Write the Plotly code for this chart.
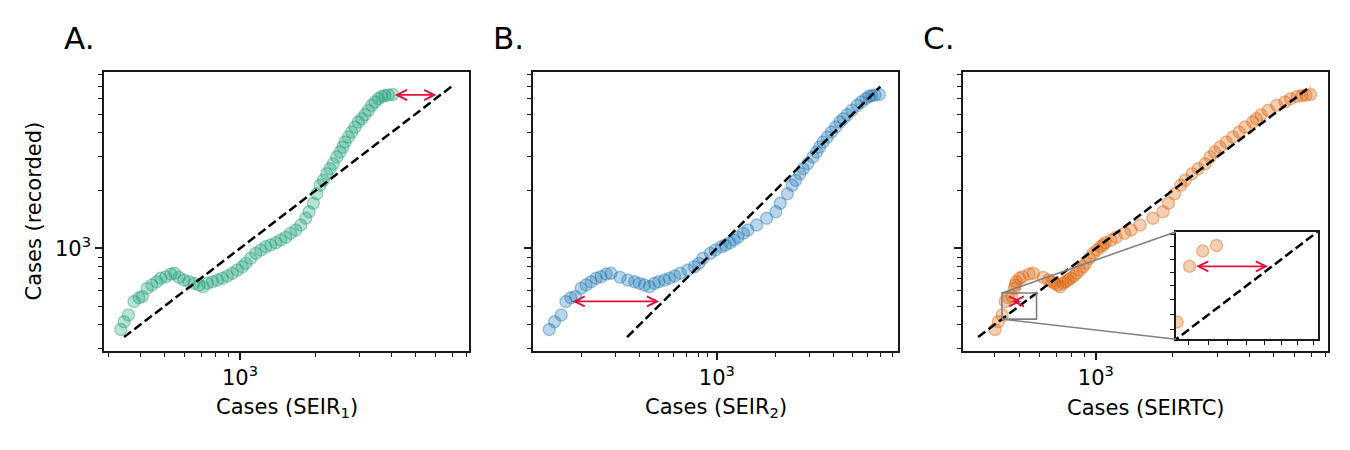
import numpy as np
import plotly.graph_objects as go

# ---------------- data ----------------
recorded = [378, 415, 450, 529, 553, 562, 619, 644, 670, 698, 711, 735, 741,
            706, 684, 670, 657, 644, 631,
            657, 670, 684, 698, 717, 741, 771, 802, 835, 887, 942,
            980, 1019, 1040, 1070, 1105, 1141, 1197, 1245, 1323, 1433,
            1551, 1716, 1925, 2129, 2260, 2446, 2598, 2758, 2989, 3174,
            3371, 3578, 3799, 4035, 4283, 4548, 4732, 4964, 5234, 5557,
            5781, 6014, 6174, 6249, 6287, 6324]

seir1 = [335, 345, 359, 378, 396, 408, 427, 445, 466, 483, 506, 530, 549,
         571, 598, 626, 656, 687, 714,
         741, 776, 812, 850, 890, 932, 975, 1021, 1054, 1103, 1155,
         1209, 1266, 1325, 1388, 1453, 1521, 1592, 1667, 1745, 1827,
         1883, 1959, 2021, 2083, 2147, 2215, 2283, 2353, 2428, 2502,
         2566, 2620, 2701, 2786, 2872, 2960, 3054, 3148, 3245, 3347,
         3450, 3556, 3668, 3781, 3897, 4060]

seir2 = [137, 146, 158, 167, 177, 187, 200, 212, 225, 239, 253, 269, 285,
         317, 348, 377, 399, 424, 450,
         477, 502, 538, 570, 607, 648, 709, 766, 808, 847, 926,
         982, 1055, 1106, 1167, 1224, 1283, 1370, 1445, 1602, 1804,
         2014, 2121, 2309, 2444, 2545, 2678, 2785, 2938, 3121, 3261,
         3383, 3526, 3708, 3892, 4097, 4305, 4477, 4694, 4965, 5287,
         5543, 5842, 6075, 6258, 6523, 6864]

seirtc = [402, 414, 429, 441, 454, 468, 479, 483, 487, 502, 516, 547, 568,
          621, 652, 672, 689, 708, 724,
          744, 761, 779, 796, 820, 840, 866, 892, 912, 944, 976,
          1010, 1043, 1068, 1088, 1148, 1201, 1297, 1375, 1492, 1673,
          1834, 1928, 2037, 2154, 2239, 2384, 2520, 2683, 2812, 2926,
          3072, 3249, 3448, 3653, 3850, 4128, 4264, 4449, 4752, 5126,
          5525, 5805, 6157, 6442, 6679, 6957]

panel_letters = ["A.", "B.", "C."]
x_titles = ["Cases (SEIR<sub>1</sub>)", "Cases (SEIR<sub>2</sub>)", "Cases (SEIRTC)"]
y_title = "Cases (recorded)"
major_ticks = [1000]
major_labels = ["10<sup>3</sup>"]
minor_ticks = [100, 200, 300, 400, 500, 600, 700, 800, 900,
               2000, 3000, 4000, 5000, 6000, 7000, 8000, 9000]
identity_span = [345, 6950]
x_limits = [[287, 8170], [113, 8570], [301, 8150]]
y_limits = [292, 8280]
inset_limits = [428, 585]
inset_ticks = [440, 460, 480, 500, 520, 540, 560, 580]
arrow_index = [64, 3, 3]
colors = ["#1b9e77", "#1f78b4", "#d95f02"]

# ---------------- layout geometry (page pixels of the reference) ----------------
PAGE_W, PAGE_H = 1350, 450
OFF = 8                      # the page body margin of the browser
W, H = PAGE_W - OFF, PAGE_H - OFF


def px_x(p):
    return (p - OFF) / W


def px_y(p):
    return 1 - (p - OFF) / H


x_domains = [[px_x(104), px_x(469)], [px_x(533), px_x(898)], [px_x(963), px_x(1328)]]
y_domain = [px_y(351), px_y(72)]
inset_xdom = [px_x(1176), px_x(1317.7)]
inset_ydom = [px_y(339.3), px_y(231.7)]

FONT = "DejaVu Sans"
TXT = 21
DASH = dict(color="black", width=2.5, dash="9px,4px")


def rgba(hexc, a):
    h = hexc.lstrip("#")
    r, g, b = int(h[0:2], 16), int(h[2:4], 16), int(h[4:6], 16)
    return f"rgba({r},{g},{b},{a})"


def lg(v):
    return float(np.log10(v))


def marker_style(c):
    return dict(size=12, color=rgba(c, 0.3), line=dict(color=rgba(c, 0.4), width=1.4))


fig = go.Figure()
series = [seir1, seir2, seirtc]
axnames = [("x", "y"), ("x2", "y2"), ("x3", "y3")]

for i, xs in enumerate(series):
    xa, ya = axnames[i]
    fig.add_trace(go.Scatter(
        x=xs, y=recorded, mode="markers", xaxis=xa, yaxis=ya,
        marker=marker_style(colors[i]), hoverinfo="skip", showlegend=False))
    fig.add_trace(go.Scatter(
        x=identity_span, y=identity_span, mode="lines", xaxis=xa, yaxis=ya,
        line=DASH, hoverinfo="skip", showlegend=False))

# inset rectangle in panel C
lo, hi = inset_limits
fig.add_trace(go.Scatter(
    x=[lo, hi, hi, lo, lo], y=[lo, lo, hi, hi, lo], mode="lines",
    xaxis="x3", yaxis="y3", line=dict(color="#808080", width=1.6),
    hoverinfo="skip", showlegend=False))

# inset content
fig.add_trace(go.Scatter(
    x=seirtc, y=recorded, mode="markers", xaxis="x4", yaxis="y4",
    marker=marker_style(colors[2]), hoverinfo="skip", showlegend=False))
fig.add_trace(go.Scatter(
    x=identity_span, y=identity_span, mode="lines", xaxis="x4", yaxis="y4",
    line=DASH, hoverinfo="skip", showlegend=False))


def main_axis(rng, dom, anchor, labels=True):
    return dict(type="log", range=[lg(rng[0]), lg(rng[1])], domain=dom, anchor=anchor,
                showgrid=False, zeroline=False, showline=True, linecolor="#1a1a1a",
                linewidth=1.6, mirror=True, ticks="outside", ticklen=7, tickwidth=1.6,
                tickcolor="#1a1a1a", tickmode="array", tickvals=major_ticks,
                ticktext=major_labels, showticklabels=labels,
                tickfont=dict(family=FONT, size=TXT, color="black"),
                minor=dict(ticks="outside", ticklen=4, tickwidth=1.2, tickcolor="#1a1a1a",
                           tickmode="array", tickvals=minor_ticks, showgrid=False))


layout = dict(width=W, height=H, margin=dict(l=0, r=0, t=0, b=0),
              paper_bgcolor="white", plot_bgcolor="white", showlegend=False,
              font=dict(family=FONT, size=TXT, color="black"))
layout["xaxis"] = main_axis(x_limits[0], x_domains[0], "y")
layout["yaxis"] = main_axis(y_limits, y_domain, "x")
layout["xaxis2"] = main_axis(x_limits[1], x_domains[1], "y2")
layout["yaxis2"] = main_axis(y_limits, y_domain, "x2", labels=False)
layout["xaxis3"] = main_axis(x_limits[2], x_domains[2], "y3")
layout["yaxis3"] = main_axis(y_limits, y_domain, "x3", labels=False)

inset_ax = dict(type="log", range=[lg(lo), lg(hi)], showgrid=False, zeroline=False,
                showline=True, linecolor="#1a1a1a", linewidth=1.6, mirror=True,
                ticks="outside", ticklen=4, tickwidth=1.2, tickcolor="#1a1a1a",
                tickmode="array", tickvals=inset_ticks, showticklabels=False)
layout["xaxis4"] = dict(inset_ax, domain=inset_xdom, anchor="y4")
layout["yaxis4"] = dict(inset_ax, domain=inset_ydom, anchor="x4")
fig.update_layout(**layout)

annotations = []
# panel letters and axis titles
for i in range(3):
    d = x_domains[i]
    annotations.append(dict(text=panel_letters[i], xref="paper", yref="paper",
                            x=d[0] - 42 / W, y=px_y(38), xanchor="left", yanchor="middle",
                            showarrow=False, font=dict(family=FONT, size=31, color="black")))
    annotations.append(dict(text=x_titles[i], xref="paper", yref="paper",
                            x=(d[0] + d[1]) / 2, y=px_y(408), xanchor="center",
                            yanchor="middle", showarrow=False,
                            font=dict(family=FONT, size=TXT, color="black")))
annotations.append(dict(text=y_title, xref="paper", yref="paper", x=px_x(33),
                        y=(y_domain[0] + y_domain[1]) / 2, textangle=-90,
                        xanchor="center", yanchor="middle", showarrow=False,
                        font=dict(family=FONT, size=TXT, color="black")))

# red arrows: from a data point horizontally to the identity line
arrow_axes = [("x", "y"), ("x2", "y2"), ("x3", "y3"), ("x4", "y4")]
arrow_series = [seir1, seir2, seirtc, seirtc]
arrow_idx = arrow_index + [arrow_index[2]]
for (xa, ya), xs, k in zip(arrow_axes, arrow_series, arrow_idx):
    annotations.append(dict(
        text="", xref=xa, yref=ya, axref=xa, ayref=ya,
        x=lg(recorded[k]), y=lg(recorded[k]), ax=lg(xs[k]), ay=lg(recorded[k]),
        showarrow=True, arrowside="end+start", arrowhead=5, startarrowhead=5,
        arrowsize=1.1, startarrowsize=1.1, arrowwidth=1.8, arrowcolor="#dc143c",
        standoff=4, startstandoff=5))
fig.update_layout(annotations=annotations)


# connector lines between the zoom rectangle and the inset
def to_paper(v, rng, dom):
    return dom[0] + (lg(v) - lg(rng[0])) / (lg(rng[1]) - lg(rng[0])) * (dom[1] - dom[0])


rect_left = to_paper(lo, x_limits[2], x_domains[2])
rect_top = to_paper(hi, y_limits, y_domain)
rect_bottom = to_paper(lo, y_limits, y_domain)
shapes = [
    dict(type="line", xref="paper", yref="paper", x0=rect_left, y0=rect_top,
         x1=inset_xdom[0], y1=inset_ydom[1], line=dict(color="#808080", width=1.6)),
    dict(type="line", xref="paper", yref="paper", x0=rect_left, y0=rect_bottom,
         x1=inset_xdom[0], y1=inset_ydom[0], line=dict(color="#808080", width=1.6)),
]
fig.update_layout(shapes=shapes)

fig.write_html("out.html")
